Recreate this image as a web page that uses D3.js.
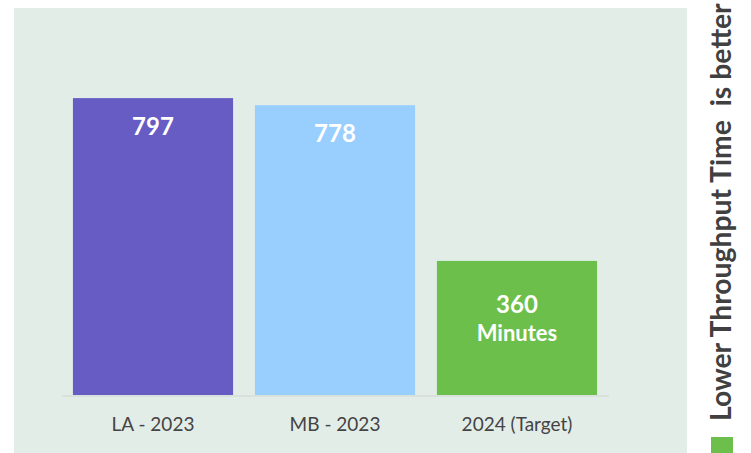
<!DOCTYPE html>
<html>
<head>
<meta charset="utf-8">
<script src="https://cdn.jsdelivr.net/npm/d3@7"></script>
<style>
  body { margin: 0; background: #fff; }
  text { font-family: "Lato", "Noto Sans", sans-serif; }
</style>
</head>
<body>
<div id="chart"></div>
<script>
// categories and values
var categories = ["LA - 2023", "MB - 2023", "2024 (Target)"];
var values = [797, 778, 360];
var valueLabels = [["797"], ["778"], ["360", "Minutes"]];
var barColors = ["#665cc4", "#99cfff", "#6cbf4a"];
var noteText = "Lower Throughput Time\u00a0 is better";

var w = 751, h = 453;

var svg = d3.select("#chart").append("svg")
	.attr("width", w)
	.attr("height", h);

// panel background
svg.append("rect")
	.attr("x", 14).attr("y", 8)
	.attr("width", 673).attr("height", h - 8)
	.attr("fill", "#e3ede8");

var x = d3.scaleBand()
	.domain(categories)
	.range([62, 608])
	.paddingInner(0.12)
	.paddingOuter(0.06);

var y = d3.scaleLinear()
	.domain([0, 800])
	.range([395, 97]);

// baseline
svg.append("line")
	.attr("x1", 62).attr("x2", 609)
	.attr("y1", 396).attr("y2", 396)
	.attr("stroke", "#d6dcd9")
	.attr("stroke-width", 1.5);

// bars
svg.selectAll(".bar")
	.data(values)
	.enter().append("rect")
	.attr("class", "bar")
	.attr("x", function (d, i) { return x(categories[i]); })
	.attr("y", function (d) { return y(d); })
	.attr("width", x.bandwidth())
	.attr("height", function (d) { return y(0) - y(d); })
	.attr("fill", function (d, i) { return barColors[i]; });

// value labels inside bars
var labels = svg.selectAll(".vlabel")
	.data(values)
	.enter().append("text")
	.attr("class", "vlabel")
	.attr("text-anchor", "middle")
	.attr("fill", "#fff")
	.attr("font-weight", "bold")
	.attr("font-size", 24);

labels.each(function (d, i) {
	var t = d3.select(this);
	var cx = x(categories[i]) + x.bandwidth() / 2;
	var lines = valueLabels[i];
	var top = y(d) + 37 + (lines.length - 1) * 15;
	lines.forEach(function (s, j) {
		t.append("tspan")
			.attr("x", cx)
			.attr("y", top + j * 28)
			.attr("font-size", j === 0 ? 24 : 22)
			.text(s);
	});
});

// x axis
var xAxis = svg.append("g")
	.attr("transform", "translate(0,396)")
	.call(d3.axisBottom(x).tickSize(0).tickPadding(22));
xAxis.select(".domain").remove();
xAxis.selectAll("text")
	.attr("font-size", 19)
	.attr("fill", "#444")
	.style("font-family", "Lato, 'Noto Sans', sans-serif");

// side note with legend square
svg.append("text")
	.attr("transform", "translate(731,421) rotate(-90)")
	.attr("font-size", 28.3)
	.attr("font-weight", "bold")
	.attr("fill", "#404040")
	.text(noteText);

svg.append("rect")
	.attr("x", 711).attr("y", 437)
	.attr("width", 22).attr("height", 22)
	.attr("fill", barColors[2]);
</script>
</body>
</html>
